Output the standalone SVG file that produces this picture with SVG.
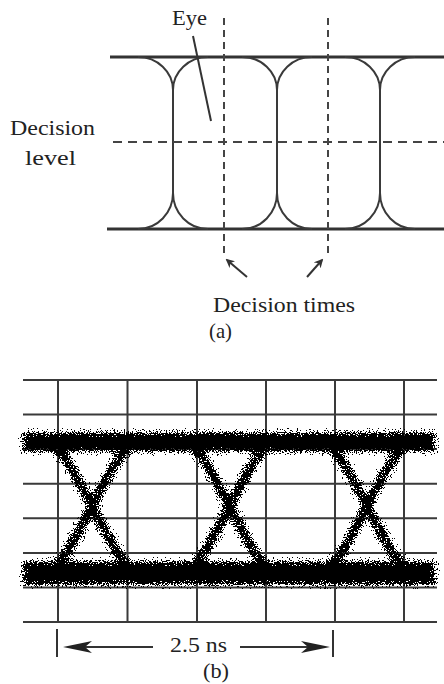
<svg xmlns="http://www.w3.org/2000/svg" width="444" height="684" viewBox="0 0 444 684">
<style>
.t{font-family:"Liberation Serif","Times New Roman",serif;fill:#222;font-size:22px}
.rail{stroke:#333;stroke-width:3;fill:none}
.arc{stroke:#3a3a3a;stroke-width:2;fill:none}
.dv{stroke:#444;stroke-width:2;stroke-dasharray:7 5;fill:none}
.dh{stroke:#444;stroke-width:2;stroke-dasharray:9 6;fill:none}
.grid{stroke:#3a3a3a;stroke-width:2;fill:none}
.conn{stroke:#333;stroke-width:2;fill:none}
.band{stroke:#000;fill:none}
</style>
<defs>
<marker id="ah" viewBox="0 0 10 10" refX="8" refY="5" markerWidth="4.5" markerHeight="4.5" orient="auto" markerUnits="strokeWidth">
<path d="M0,0 L10,5 L0,10 L3,5 z" fill="#333"/>
</marker>
<filter id="speck" x="-5%" y="-25%" width="110%" height="150%" color-interpolation-filters="sRGB">
<feGaussianBlur in="SourceAlpha" stdDeviation="2.5" result="b"/>
<feTurbulence type="fractalNoise" baseFrequency="0.75" numOctaves="2" seed="7" result="t"/>
<feColorMatrix in="t" type="matrix" values="0 0 0 0 0  0 0 0 0 0  0 0 0 0 0  2.5 0 0 0 -0.75" result="n"/>
<feComposite in="b" in2="n" operator="arithmetic" k1="0" k2="1" k3="0.95" k4="-0.48" result="c"/>
<feComponentTransfer in="c"><feFuncA type="discrete" tableValues="0 1"/></feComponentTransfer>
</filter>
<g id="xcross">
<path d="M50,444 C62,449 72,468 92,506 C112,544 120,563 136,570"/>
<path d="M134,444 C122,449 112,468 92,506 C72,544 64,563 48,570"/>
</g>
</defs>

<g id="panel-a">
<g id="rails">
<line class="rail" x1="110" y1="57" x2="444" y2="57"/>
<line class="rail" x1="107" y1="229" x2="444" y2="229"/>
</g>
<g id="eye-traces">
<path class="arc" d="M173,90 V193 M277,90 V193 M380,90 V193"/>
<path class="arc" d="M173,90 A35,33 0 0,0 138,57 M173,90 A35,33 0 0,1 208,57 M277,90 A35,33 0 0,0 242,57 M277,90 A35,33 0 0,1 312,57 M380,90 A35,33 0 0,0 345,57 M380,90 A35,33 0 0,1 415,57"/>
<path class="arc" d="M173,193 A35,36 0 0,1 138,229 M173,193 A35,36 0 0,0 208,229 M277,193 A35,36 0 0,1 242,229 M277,193 A35,36 0 0,0 312,229 M380,193 A35,36 0 0,1 345,229 M380,193 A35,36 0 0,0 415,229"/>
</g>
<g id="decision-lines">
<line class="dh" x1="113" y1="142" x2="444" y2="142"/>
<line class="dv" x1="224" y1="18" x2="224" y2="255"/>
<line class="dv" x1="328" y1="18" x2="328" y2="255"/>
</g>
<g id="label-eye"><text class="t" x="172" y="25" textLength="35" lengthAdjust="spacingAndGlyphs">Eye</text></g>
<g id="label-decision-level">
<text class="t" x="10" y="135" textLength="85" lengthAdjust="spacingAndGlyphs">Decision</text>
<text class="t" x="25" y="165" textLength="51" lengthAdjust="spacingAndGlyphs">level</text>
</g>
<g id="label-decision-times"><text class="t" x="213" y="312" textLength="142" lengthAdjust="spacingAndGlyphs">Decision times</text></g>
<g id="caption-a"><text class="t" x="209" y="338" textLength="23" lengthAdjust="spacingAndGlyphs">(a)</text></g>
</g>

<g id="panel-b">
<g id="grid">
<path class="grid" d="M23,380 H437 M23,414.6 H437 M23,449.1 H437 M23,483.7 H437 M23,518.3 H437 M23,552.9 H437 M23,587.4 H437 M23,622 H437"/>
<path class="grid" d="M58,380 V622 M127.5,380 V622 M197,380 V622 M266,380 V622 M335,380 V622 M404,380 V622"/>
</g>
<g id="eye-traces-measured" filter="url(#speck)">
<line class="band" x1="23" y1="442" x2="435" y2="442" stroke-width="19"/>
<line class="band" x1="23" y1="573" x2="435" y2="573" stroke-width="23"/>
<g class="band" stroke-width="9">
<use href="#xcross"/>
<use href="#xcross" transform="translate(137.5,0)"/>
<use href="#xcross" transform="translate(275,0)"/>
</g>
</g>
<g id="label-period"><text class="t" x="170" y="652" font-size="21" textLength="57" lengthAdjust="spacingAndGlyphs">2.5 ns</text></g>
<g id="caption-b"><text class="t" x="203" y="678" font-size="21" textLength="26" lengthAdjust="spacingAndGlyphs">(b)</text></g>
</g>

<g id="connectors">
<line class="conn" x1="193" y1="36" x2="211" y2="121"/>
<line class="conn" x1="247" y1="277" x2="227" y2="260" stroke-width="2.5" marker-end="url(#ah)"/>
<line class="conn" x1="307" y1="277" x2="322" y2="260" stroke-width="2.5" marker-end="url(#ah)"/>
<line class="conn" x1="57" y1="629" x2="57" y2="657" stroke-width="2.5"/>
<line class="conn" x1="333" y1="630" x2="333" y2="657" stroke-width="2.5"/>
<line class="conn" x1="85" y1="647" x2="153" y2="647"/>
<path d="M63,647 L92,641 L85,647 L92,653 z" fill="#222"/>
<line class="conn" x1="240" y1="647" x2="308" y2="647"/>
<path d="M330,647 L301,641 L308,647 L301,653 z" fill="#222"/>
</g>
</svg>
